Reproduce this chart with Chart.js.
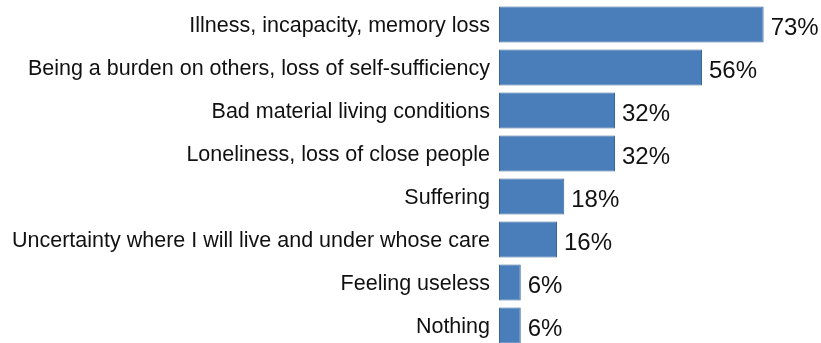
<!DOCTYPE html>
<html>
<head>
<meta charset="utf-8">
<script src="https://cdn.jsdelivr.net/npm/chart.js@4/dist/chart.umd.min.js"></script>
<style>
  html, body { margin: 0; padding: 0; background: #fff; overflow: hidden; }
  #wrap { position: relative; width: 821px; height: 350px; }
</style>
</head>
<body>
<div id="wrap"><canvas id="c"></canvas></div>
<script>
const categories = [
  'Illness, incapacity, memory loss',
  'Being a burden on others, loss of self-sufficiency',
  'Bad material living conditions',
  'Loneliness, loss of close people',
  'Suffering',
  'Uncertainty where I will live and under whose care',
  'Feeling useless',
  'Nothing',
];
const values = [73, 56, 32, 32, 18, 16, 6, 6];

// etiquettes de valeur a droite des barres
const valueLabels = {
  id: 'valueLabels',
  afterDatasetsDraw(chart) {
    const ctx = chart.ctx;
    const meta = chart.getDatasetMeta(0);
    ctx.save();
    ctx.font = '24px "Liberation Sans", Arial, sans-serif';
    ctx.fillStyle = '#111';
    ctx.textAlign = 'left';
    ctx.textBaseline = 'middle';
    meta.data.forEach((bar, i) => {
      ctx.fillText(values[i] + '%', bar.x + 7, bar.y + 4);
    });
    ctx.restore();
  }
};

new Chart(document.getElementById('c'), {
  type: 'bar',
  data: {
    labels: categories,
    datasets: [{
      data: values,
      backgroundColor: '#4a7ebb',
      borderColor: '#3b6699',
      borderWidth: 1,
      borderSkipped: false,
      barPercentage: 0.84,
      categoryPercentage: 1,
    }],
  },
  options: {
    indexAxis: 'y',
    responsive: true,
    maintainAspectRatio: false,
    animation: false,
    layout: { padding: { top: 3, bottom: 3, right: 3, left: 0 } },
    plugins: { legend: { display: false }, tooltip: { enabled: false } },
    scales: {
      x: { display: false, min: 0, max: 88 },
      y: {
        afterFit: axis => {
          axis.width = 499;
          axis.paddingTop = 0;
          axis.paddingBottom = 0;
        },
        grid: { display: false, drawTicks: false },
        border: { display: false },
        ticks: {
          padding: 9,
          labelOffset: 2,
          color: '#111',
          font: { family: '"Liberation Sans", Arial, sans-serif', size: 21.5 },
        },
      },
    },
  },
  plugins: [valueLabels],
});
</script>
</body>
</html>
